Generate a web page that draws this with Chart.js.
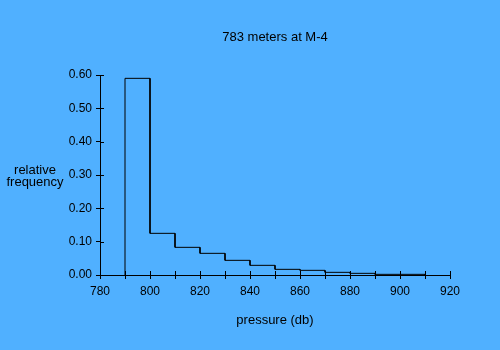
<!DOCTYPE html>
<html>
<head>
<meta charset="utf-8">
<script src="https://cdn.jsdelivr.net/npm/chart.js@4"></script>
<style>
  body { margin: 0; background: #50b0ff; }
  canvas { display: block; }
</style>
</head>
<body>
<canvas id="histChart" width="500" height="350"></canvas>
<script>
// bin edges (db) and relative frequency of each 10 db bin
const binStart = [790, 800, 810, 820, 830, 840, 850, 860, 870, 880, 890, 900];
const binWidth = 10;
const frequency = [0.590, 0.125, 0.083, 0.065, 0.044, 0.029, 0.017, 0.014, 0.008, 0.005, 0.002, 0.002];

const chartTitle = '783 meters at M-4';
const xTitle = 'pressure (db)';
const yTitle = ['relative', 'frequency'];

// outline of the histogram as corner points
const outline = [{ x: binStart[0], y: 0 }];
binStart.forEach(function(start, i) {
    outline.push({ x: start, y: frequency[i] });
    outline.push({ x: start + binWidth, y: frequency[i] });
});
outline.push({ x: binStart[binStart.length - 1] + binWidth, y: 0 });

const labelFont = { family: '"Liberation Sans", Arial, sans-serif', size: 12 };
const textFont = { family: '"Liberation Sans", Arial, sans-serif', size: 13 };

// ticks that cross the axis line, and the horizontal y title
const axisExtras = {
    id: 'axisExtras',
    afterDraw(chart) {
        const ctx = chart.ctx;
        const area = chart.chartArea;
        ctx.save();
        ctx.strokeStyle = '#000';
        ctx.lineWidth = 1;
        ctx.beginPath();
        chart.scales.x.ticks.forEach(function(t) {
            const px = Math.round(chart.scales.x.getPixelForValue(t.value)) + 0.5;
            ctx.moveTo(px, area.bottom - 4);
            ctx.lineTo(px, area.bottom);
        });
        chart.scales.y.ticks.forEach(function(t) {
            const py = Math.round(chart.scales.y.getPixelForValue(t.value)) + 0.5;
            ctx.moveTo(area.left, py);
            ctx.lineTo(area.left + 4, py);
        });
        ctx.stroke();
        ctx.fillStyle = '#000';
        ctx.font = '13px "Liberation Sans", Arial, sans-serif';
        ctx.textAlign = 'center';
        ctx.textBaseline = 'middle';
        yTitle.forEach(function(line, i) {
            ctx.fillText(line, 35, 170 + i * 12);
        });
        ctx.restore();
    }
};

new Chart(document.getElementById('histChart'), {
    type: 'line',
    data: {
        datasets: [{
            data: outline,
            borderColor: '#000',
            borderWidth: 1,
            pointRadius: 0,
            fill: false,
            tension: 0
        }]
    },
    options: {
        responsive: false,
        animation: false,
        layout: { padding: { left: 0, right: 50, top: 0, bottom: 0 } },
        plugins: {
            legend: { display: false },
            tooltip: { enabled: false }
        },
        scales: {
            x: {
                type: 'linear',
                min: 780,
                max: 920,
                afterFit: function(scale) { scale.height = 75; },
                border: { color: '#000', width: 1 },
                grid: { drawOnChartArea: false, tickLength: 4, color: '#000' },
                ticks: {
                    stepSize: 10,
                    autoSkip: false,
                    maxRotation: 0,
                    padding: 5,
                    color: '#000',
                    font: labelFont,
                    callback: function(v) { return v % 20 === 0 ? v : ''; }
                },
                title: {
                    display: true,
                    text: xTitle,
                    color: '#000',
                    font: textFont,
                    padding: { top: 0, bottom: 21.5 }
                }
            },
            top: {
                type: 'linear',
                position: 'top',
                min: 780,
                max: 920,
                afterFit: function(scale) { scale.height = 75; },
                border: { display: false },
                grid: { display: false },
                ticks: { display: false },
                title: {
                    display: true,
                    text: chartTitle,
                    color: '#000',
                    font: textFont,
                    padding: { top: 30, bottom: 0 }
                }
            },
            y: {
                min: 0,
                max: 0.6,
                afterFit: function(scale) { scale.width = 100; },
                border: { color: '#000', width: 1 },
                grid: { drawOnChartArea: false, tickLength: 4, color: '#000' },
                ticks: {
                    stepSize: 0.1,
                    padding: 4,
                    color: '#000',
                    font: labelFont,
                    callback: function(v) { return v.toFixed(2); }
                }
            }
        }
    },
    plugins: [axisExtras]
});
</script>
</body>
</html>
